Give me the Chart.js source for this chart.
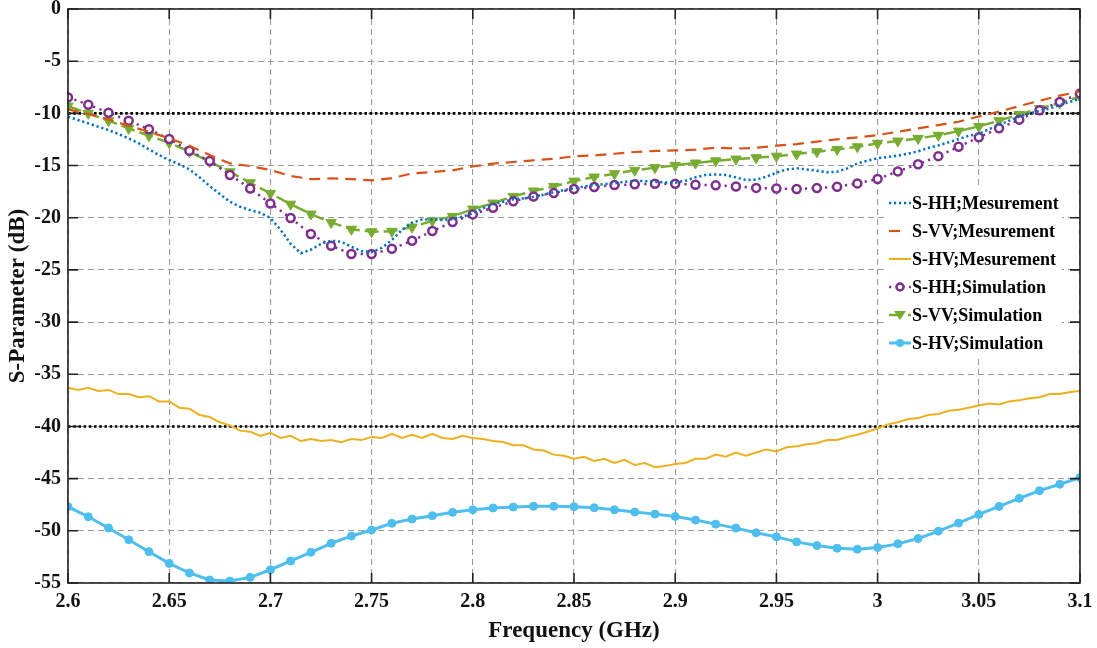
<!DOCTYPE html>
<html>
<head>
<meta charset="utf-8">
<script src="https://cdn.jsdelivr.net/npm/chart.js@4/dist/chart.umd.min.js"></script>
<style>
  html, body { margin: 0; padding: 0; background: #fff; }
</style>
</head>
<body>
<canvas id="myChart" width="1097" height="648"></canvas>
<script>
// frequency grids (GHz)
var freqSim = [2.60, 2.61, 2.62, 2.63, 2.64, 2.65, 2.66, 2.67, 2.68, 2.69,
               2.70, 2.71, 2.72, 2.73, 2.74, 2.75, 2.76, 2.77, 2.78, 2.79,
               2.80, 2.81, 2.82, 2.83, 2.84, 2.85, 2.86, 2.87, 2.88, 2.89,
               2.90, 2.91, 2.92, 2.93, 2.94, 2.95, 2.96, 2.97, 2.98, 2.99,
               3.00, 3.01, 3.02, 3.03, 3.04, 3.05, 3.06, 3.07, 3.08, 3.09, 3.10];
var freqMeas = [2.600, 2.605, 2.610, 2.615, 2.620, 2.625, 2.630, 2.635, 2.640, 2.645,
                2.650, 2.655, 2.660, 2.665, 2.670, 2.675, 2.680, 2.685, 2.690, 2.695,
                2.700, 2.705, 2.710, 2.715, 2.720, 2.725, 2.730, 2.735, 2.740, 2.745,
                2.750, 2.755, 2.760, 2.765, 2.770, 2.775, 2.780, 2.785, 2.790, 2.795,
                2.800, 2.805, 2.810, 2.815, 2.820, 2.825, 2.830, 2.835, 2.840, 2.845,
                2.850, 2.855, 2.860, 2.865, 2.870, 2.875, 2.880, 2.885, 2.890, 2.895,
                2.900, 2.905, 2.910, 2.915, 2.920, 2.925, 2.930, 2.935, 2.940, 2.945,
                2.950, 2.955, 2.960, 2.965, 2.970, 2.975, 2.980, 2.985, 2.990, 2.995,
                3.000, 3.005, 3.010, 3.015, 3.020, 3.025, 3.030, 3.035, 3.040, 3.045,
                3.050, 3.055, 3.060, 3.065, 3.070, 3.075, 3.080, 3.085, 3.090, 3.095, 3.100];

// S-HH measurement (on freqMeas)
var hhMeas = [-10.32, -10.64, -10.96, -11.28, -11.6, -11.98, -12.4, -12.88, -13.45, -14.0,
              -14.47, -14.86, -15.37, -16.13, -16.96, -17.73, -18.47, -18.95, -19.27, -19.52,
              -20.03, -21.15, -22.5, -23.4, -23.07, -22.5, -22.2, -22.3, -22.78, -23.2,
              -23.3, -22.9, -22.14, -21.18, -20.48, -20.16, -20.16, -20.22, -20.15, -19.9,
              -19.58, -19.1, -18.69, -18.47, -18.24, -18.15, -17.99, -17.8, -17.55, -17.35,
              -17.19, -17.0, -16.87, -16.78, -16.7, -16.55, -16.45, -16.5, -16.55, -16.62,
              -16.65, -16.45, -16.13, -15.9, -15.85, -15.91, -16.13, -16.39, -16.35, -16.07,
              -15.69, -15.37, -15.27, -15.37, -15.5, -15.65, -15.59, -15.27, -14.79, -14.54,
              -14.3, -14.18, -14.05, -13.86, -13.64, -13.32, -13.07, -12.78, -12.47, -12.15,
              -11.96, -11.52, -11.1, -10.7, -10.32, -10.0, -9.75, -9.53, -9.2, -8.9, -8.58];

// S-VV measurement (on freqSim)
var vvMeas = [-9.62, -10.06, -10.58, -11.2, -11.76, -12.4, -13.1, -13.99, -14.8, -15.05,
              -15.43, -16.0, -16.3, -16.23, -16.3, -16.42, -16.2, -15.75, -15.62, -15.46,
              -15.08, -14.82, -14.66, -14.5, -14.35, -14.12, -14.03, -13.87, -13.7, -13.6,
              -13.55, -13.48, -13.29, -13.38, -13.3, -13.1, -12.94, -12.7, -12.49, -12.3,
              -12.08, -11.76, -11.44, -11.12, -10.8, -10.3, -9.84, -9.3, -8.8, -8.3, -7.9];

// S-HV measurement (on freqMeas)
var hvMeas = [-36.3, -36.5, -36.3, -36.6, -36.5, -36.9, -36.9, -37.2, -37.1, -37.6,
              -37.6, -38.2, -38.3, -38.9, -39.1, -39.6, -39.9, -40.4, -40.5, -40.9,
              -40.6, -41.1, -40.9, -41.4, -41.2, -41.4, -41.3, -41.5, -41.2, -41.3,
              -41.0, -41.1, -40.7, -41.1, -40.8, -41.1, -40.7, -41.1, -41.2, -40.9,
              -41.1, -41.2, -41.4, -41.5, -41.8, -41.8, -42.2, -42.3, -42.7, -42.8,
              -43.1, -42.9, -43.3, -43.1, -43.5, -43.2, -43.7, -43.5, -43.9, -43.8,
              -43.6, -43.5, -43.1, -43.1, -42.7, -42.9, -42.5, -42.8, -42.5, -42.2,
              -42.4, -42.0, -41.9, -41.7, -41.6, -41.3, -41.3, -41.0, -40.8, -40.5,
              -40.2, -39.8, -39.6, -39.3, -39.2, -38.9, -38.8, -38.5, -38.4, -38.2,
              -38.0, -37.8, -37.9, -37.6, -37.5, -37.3, -37.2, -36.9, -36.9, -36.7, -36.6];

// simulations (on freqSim)
var hhSim = [-8.47, -9.17, -9.94, -10.7, -11.53, -12.46, -13.58, -14.57, -15.9, -17.2,
             -18.63, -20.03, -21.57, -22.68, -23.48, -23.48, -22.97, -22.2, -21.28, -20.42,
             -19.68, -19.04, -18.43, -17.96, -17.64, -17.25, -17.06, -16.87, -16.8, -16.74,
             -16.74, -16.84, -16.9, -17.0, -17.14, -17.2, -17.25, -17.16, -17.03, -16.71,
             -16.29, -15.56, -14.88, -14.1, -13.2, -12.3, -11.43, -10.6, -9.7, -8.9, -8.1];
var vvSim = [-9.3, -10.0, -10.7, -11.44, -12.14, -12.81, -13.67, -14.63, -15.6, -16.65,
             -17.67, -18.7, -19.65, -20.45, -21.1, -21.34, -21.3, -20.9, -20.3, -19.87,
             -19.17, -18.6, -17.96, -17.44, -17.0, -16.49, -16.1, -15.78, -15.46, -15.2,
             -14.98, -14.76, -14.55, -14.38, -14.25, -14.1, -13.9, -13.67, -13.45, -13.2,
             -12.87, -12.65, -12.4, -12.1, -11.7, -11.25, -10.7, -10.1, -9.55, -9.0, -8.4];
var hvSim = [-47.69, -48.65, -49.73, -50.85, -52.0, -53.12, -54.04, -54.71, -54.81, -54.46,
             -53.73, -52.89, -52.06, -51.2, -50.5, -49.92, -49.28, -48.87, -48.55, -48.23,
             -47.98, -47.81, -47.72, -47.65, -47.65, -47.69, -47.79, -47.98, -48.2, -48.4,
             -48.62, -48.97, -49.36, -49.74, -50.19, -50.58, -51.06, -51.41, -51.67, -51.76,
             -51.6, -51.25, -50.74, -50.03, -49.26, -48.43, -47.66, -46.89, -46.15, -45.54, -44.9];

var refLevels = [-10, -40];
var xTicks = [2.6, 2.65, 2.7, 2.75, 2.8, 2.85, 2.9, 2.95, 3, 3.05, 3.1];
var yTicks = [0, -5, -10, -15, -20, -25, -30, -35, -40, -45, -50, -55];

var serif = '"Liberation Serif", "Times New Roman", serif';

function pairs(xs, ys) {
    return xs.map(function(x, i) { return {x: x, y: ys[i]}; });
}

var datasets = [
    { label: 'S-HH;Mesurement', data: pairs(freqMeas, hhMeas), borderColor: '#0072BD',
      borderWidth: 2.5, borderDash: [2.2, 2.8], pointRadius: 0, marker: null },
    { label: 'S-VV;Mesurement', data: pairs(freqSim, vvMeas), borderColor: '#D95319',
      borderWidth: 2.2, borderDash: [11, 7], pointRadius: 0, marker: null, legendDash: [11, 30] },
    { label: 'S-HV;Mesurement', data: pairs(freqMeas, hvMeas), borderColor: '#EDB120',
      borderWidth: 2, pointRadius: 0, marker: null },
    { label: 'S-HH;Simulation', data: pairs(freqSim, hhSim), borderColor: '#7E2F8E',
      borderWidth: 2.5, borderDash: [2.2, 4.5], pointRadius: 4, pointStyle: 'circle',
      pointBorderWidth: 2.5, pointBackgroundColor: '#fff', pointBorderColor: '#7E2F8E', marker: 'ring' },
    { label: 'S-VV;Simulation', data: pairs(freqSim, vvSim), borderColor: '#77AC30',
      borderWidth: 2.5, borderDash: [14, 5], pointRadius: 6, pointStyle: 'triangle', pointRotation: 180,
      pointBorderWidth: 1, pointBackgroundColor: '#77AC30', pointBorderColor: '#77AC30', marker: 'tri' },
    { label: 'S-HV;Simulation', data: pairs(freqSim, hvSim), borderColor: '#4DBEEE',
      borderWidth: 3, pointRadius: 4, pointStyle: 'circle', pointBorderWidth: 1,
      pointBackgroundColor: '#4DBEEE', pointBorderColor: '#4DBEEE', marker: 'dot' }
];

refLevels.forEach(function(lv) {
    datasets.push({ label: 'ref', data: [{x: 2.6, y: lv}, {x: 3.1, y: lv}], borderColor: '#000',
        borderWidth: 2.6, borderDash: [2.6, 2.6], pointRadius: 0, isRef: true });
});
datasets.forEach(function(d) { d.fill = false; d.tension = 0; });

var framePlugin = {
    id: 'frame',
    afterDraw: function(chart) {
        var ctx = chart.ctx, a = chart.chartArea;
        var xs = chart.scales.x, ys = chart.scales.y;
        ctx.save();
        ctx.strokeStyle = '#222';
        ctx.lineWidth = 1.6;
        ctx.setLineDash([]);
        ctx.strokeRect(a.left, a.top, a.right - a.left, a.bottom - a.top);
        ctx.beginPath();
        xTicks.forEach(function(t) {
            var px = xs.getPixelForValue(t);
            ctx.moveTo(px, a.bottom); ctx.lineTo(px, a.bottom - 10);
            ctx.moveTo(px, a.top); ctx.lineTo(px, a.top + 10);
        });
        yTicks.forEach(function(t) {
            var py = ys.getPixelForValue(t);
            ctx.moveTo(a.left, py); ctx.lineTo(a.left + 10, py);
            ctx.moveTo(a.right, py); ctx.lineTo(a.right - 10, py);
        });
        ctx.stroke();

        // legend box inside the plot
        var lx = 885, ly = 188, rowH = 28;
        ctx.fillStyle = '#fff';
        ctx.fillRect(lx, ly, 177, 168);
        var items = chart.data.datasets.filter(function(d) { return !d.isRef; });
        items.forEach(function(d, i) {
            var y = ly + 15 + i * rowH;
            ctx.strokeStyle = d.borderColor;
            ctx.lineWidth = d.borderWidth;
            ctx.setLineDash(d.legendDash || d.borderDash || []);
            ctx.beginPath();
            ctx.moveTo(889, y); ctx.lineTo(911, y);
            ctx.stroke();
            ctx.setLineDash([]);
            var mx = 900;
            if (d.marker === 'ring') {
                ctx.beginPath(); ctx.arc(mx, y, 3.5, 0, Math.PI * 2);
                ctx.fillStyle = '#fff'; ctx.fill();
                ctx.lineWidth = 2.5; ctx.strokeStyle = d.borderColor; ctx.stroke();
            } else if (d.marker === 'tri') {
                ctx.beginPath();
                ctx.moveTo(mx - 6, y - 4); ctx.lineTo(mx + 6, y - 4); ctx.lineTo(mx, y + 5);
                ctx.closePath(); ctx.fillStyle = d.borderColor; ctx.fill();
            } else if (d.marker === 'dot') {
                ctx.beginPath(); ctx.arc(mx, y, 4, 0, Math.PI * 2);
                ctx.fillStyle = d.borderColor; ctx.fill();
            }
            ctx.fillStyle = '#000';
            ctx.font = 'bold 18px ' + serif;
            ctx.textBaseline = 'middle';
            ctx.textAlign = 'left';
            ctx.fillText(d.label, 912, y + 1);
        });
        ctx.restore();
    }
};

var ctx = document.getElementById('myChart').getContext('2d');
var myChart = new Chart(ctx, {
    type: 'line',
    data: { datasets: datasets },
    options: {
        responsive: false,
        animation: false,
        devicePixelRatio: 1,
        layout: { padding: { top: 9, right: 17, left: 0, bottom: 0 } },
        plugins: { legend: { display: false }, tooltip: { enabled: false } },
        scales: {
            x: {
                type: 'linear', min: 2.6, max: 3.1,
                afterBuildTicks: function(s) { s.ticks = xTicks.map(function(v) { return {value: v}; }); },
                afterFit: function(s) { s.height = 65; s.paddingLeft = 0; s.paddingRight = 0; },
                grid: { color: '#9a9a9a', lineWidth: 1.1, drawTicks: false, tickLength: 0 },
                border: { display: false, dash: [6, 4] },
                ticks: { color: '#111', padding: 7, maxRotation: 0, autoSkip: false,
                         font: { family: serif, size: 20, weight: 'bold' },
                         callback: function(v) { return String(+v.toFixed(2)); } },
                title: { display: true, text: 'Frequency (GHz)', color: '#111',
                         font: { family: serif, size: 23, weight: 'bold' }, padding: { top: 0, bottom: 3 } }
            },
            y: {
                type: 'linear', min: -55, max: 0,
                afterBuildTicks: function(s) { s.ticks = yTicks.map(function(v) { return {value: v}; }); },
                afterFit: function(s) { s.width = 68; s.paddingTop = 0; s.paddingBottom = 0; },
                grid: { color: '#9a9a9a', lineWidth: 1.1, drawTicks: false, tickLength: 0 },
                border: { display: false, dash: [6, 4] },
                ticks: { color: '#111', padding: 7, autoSkip: false,
                         font: { family: serif, size: 20, weight: 'bold' } },
                title: { display: true, text: 'S-Parameter (dB)', color: '#111',
                         font: { family: serif, size: 23, weight: 'bold' }, padding: { top: 4, bottom: 0 } }
            }
        }
    },
    plugins: [framePlugin]
});
</script>
</body>
</html>
